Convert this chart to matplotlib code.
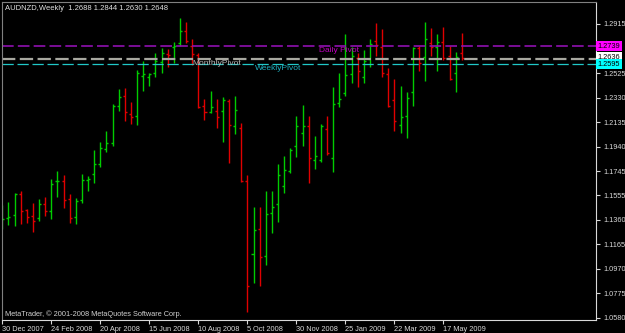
import matplotlib
matplotlib.use("Agg")
import matplotlib.pyplot as plt
import pandas as pd

# AUDNZD weekly bars
opens = [1.1332, 1.1372, 1.1396, 1.1562, 1.1435, 1.1388, 1.1372, 1.1483, 1.1427, 1.1665,
         1.1670, 1.1523, 1.1382, 1.1515, 1.1673, 1.1721, 1.1803, 1.1920, 1.1967, 1.2261,
         1.2345, 1.2200, 1.2186, 1.2499, 1.2496, 1.2525, 1.2615, 1.2676, 1.2732, 1.2761,
         1.2861, 1.2740, 1.2668, 1.2263, 1.2213, 1.2224, 1.2224, 1.2305, 1.2107, 1.2085,
         1.1670, 1.1088, 1.1284, 1.1072, 1.1411, 1.1485, 1.1628, 1.1745, 1.1946, 1.2047,
         1.2105, 1.1832, 1.1832, 1.2081, 1.1848, 1.2285, 1.2367, 1.2517, 1.2644, 1.2496,
         1.2634, 1.2782, 1.2734, 1.2517, 1.2311, 1.2112, 1.2184, 1.2371, 1.2726, 1.2655,
         1.2764, 1.2729, 1.2769, 1.2663, 1.2528, 1.2688]
highs = [1.1477, 1.1499, 1.1570, 1.1588, 1.1446, 1.1496, 1.1523, 1.1541, 1.1684, 1.1745,
         1.1718, 1.1567, 1.1530, 1.1721, 1.1708, 1.1914, 1.1978, 1.2065, 1.2277, 1.2401,
         1.2406, 1.2295, 1.2549, 1.2623, 1.2525, 1.2687, 1.2721, 1.2714, 1.2769, 1.2960,
         1.2933, 1.2793, 1.2687, 1.2317, 1.2382, 1.2317, 1.2337, 1.2317, 1.2343, 1.2132,
         1.1715, 1.1464, 1.1464, 1.1591, 1.1588, 1.1800, 1.1869, 1.1932, 1.2186, 1.2271,
         1.2184, 1.2028, 1.2118, 1.2184, 1.2412, 1.2523, 1.2835, 1.2734, 1.2688, 1.2708,
         1.2793, 1.2920, 1.2875, 1.2563, 1.2475, 1.2422, 1.2375, 1.2729, 1.2737, 1.2930,
         1.2880, 1.2835, 1.2888, 1.2737, 1.2692, 1.2844]
lows = [1.1287, 1.1318, 1.1311, 1.1326, 1.1332, 1.1265, 1.1353, 1.1392, 1.1366, 1.1543,
        1.1453, 1.1332, 1.1326, 1.1496, 1.1591, 1.1650, 1.1777, 1.1898, 1.1948, 1.2226,
        1.2147, 1.2118, 1.2115, 1.2385, 1.2425, 1.2496, 1.2523, 1.2571, 1.2602, 1.2740,
        1.2766, 1.2589, 1.2245, 1.2152, 1.2205, 1.2086, 1.1980, 1.1808, 1.2039, 1.1656,
        1.0628, 1.0860, 1.0834, 1.1001, 1.1255, 1.1345, 1.1575, 1.1729, 1.1861, 1.1948,
        1.1650, 1.1763, 1.1821, 1.1874, 1.1742, 1.2258, 1.2343, 1.2448, 1.2412, 1.2448,
        1.2571, 1.2663, 1.2491, 1.2258, 1.2065, 1.2051, 1.2012, 1.2263, 1.2544, 1.2464,
        1.2660, 1.2544, 1.2625, 1.2470, 1.2377, 1.2630]
closes = [1.1366, 1.1380, 1.1567, 1.1427, 1.1384, 1.1353, 1.1488, 1.1430, 1.1646, 1.1670,
          1.1517, 1.1374, 1.1511, 1.1676, 1.1680, 1.1800, 1.1932, 1.1967, 1.2261, 1.2335,
          1.2213, 1.2178, 1.2528, 1.2515, 1.2520, 1.2623, 1.2682, 1.2668, 1.2740, 1.2859,
          1.2777, 1.2680, 1.2253, 1.2213, 1.2258, 1.2174, 1.2311, 1.2112, 1.2232, 1.1668,
          1.0834, 1.1275, 1.1067, 1.1403, 1.1464, 1.1715, 1.1755, 1.1910, 1.2101, 1.2105,
          1.1850, 1.1866, 1.2107, 1.1893, 1.2278, 1.2319, 1.2509, 1.2660, 1.2541, 1.2623,
          1.2756, 1.2748, 1.2528, 1.2267, 1.2144, 1.2176, 1.2324, 1.2726, 1.2605, 1.2793,
          1.2729, 1.2774, 1.2644, 1.2480, 1.2655, 1.2648]

semanas = pd.date_range("2007-12-30", periods=len(opens), freq="7D")

# pivotes
pivot_diario = 1.2739
pivot_mensual = 1.2636
pivot_semanal = 1.2595

precios_eje = [1.2915, 1.2525, 1.2330, 1.2135, 1.1940, 1.1745, 1.1555,
               1.1360, 1.1165, 1.0970, 1.0775, 1.0580]

plt.rcParams["font.family"] = ["Liberation Sans", "DejaVu Sans"]

fig = plt.figure(figsize=(6.25, 3.33), dpi=100)
fig.patch.set_facecolor("black")
ax = fig.add_axes([2 / 625, 13 / 333, 594 / 625, 318 / 333])
ax.set_facecolor("black")

# barras OHLC
for i in range(len(opens)):
    col = "#00cc00" if closes[i] >= opens[i] else "#e00000"
    ax.vlines(i, lows[i], highs[i], color=col, linewidth=1.0)
    ax.hlines(opens[i], i - 0.33, i, color=col, linewidth=1.0)
    ax.hlines(closes[i], i, i + 0.33, color=col, linewidth=1.0)

# lineas de pivote
ax.axhline(pivot_diario, color="#9010b0", linestyle=(0, (7, 2.5)), linewidth=1.2)
ax.axhline(pivot_mensual, color="#a8a8a0", linestyle=(0, (6, 2)), linewidth=1.6)
ax.axhline(pivot_semanal, color="#20c8c8", linestyle=(0, (9, 3)), linewidth=0.9)

ax.text(31.1, pivot_mensual - 0.0005, "MonthlyPivot", color="#b8b8b8", fontsize=6, va="top")
ax.text(41.3, pivot_semanal - 0.0005, "WeeklyPivot", color="#20b0c0", fontsize=6, va="top")
ax.text(51.7, pivot_diario - 0.0005, "Daily Pivot", color="#c000c0", fontsize=6, va="top")

ax.set_xlim(-0.05, 96.9)
ax.set_ylim(1.05641, 1.30890)

# eje y a la derecha
ax.yaxis.tick_right()
ax.set_yticks(precios_eje)
ax.set_yticklabels([f"{p:.4f}" for p in precios_eje])
ax.tick_params(axis="y", colors="#d8d8d8", labelsize=5.3, length=3, pad=2)

# eje x: cada 8 semanas
pos_x = list(range(0, len(semanas), 8))
ax.set_xticks(pos_x)
ax.set_xticklabels([f"{semanas[k].day} {semanas[k]:%b %Y}" for k in pos_x], ha="left")
ax.tick_params(axis="x", colors="#d8d8d8", labelsize=5.3, length=3, pad=1)

for lado in ["left", "top"]:
    ax.spines[lado].set_color("#808080")
for lado in ["right", "bottom"]:
    ax.spines[lado].set_color("#d8d8d8")

# etiquetas de precio de los pivotes
tr = ax.get_yaxis_transform()
ax.text(1.003, pivot_mensual + 0.0012, "1.2636", transform=tr, fontsize=5.3, va="center",
        color="black", bbox=dict(facecolor="white", edgecolor="none", pad=1.2), clip_on=False)
ax.text(1.003, pivot_semanal, "1.2595", transform=tr, fontsize=5.3, va="center",
        color="black", bbox=dict(facecolor="#00ffff", edgecolor="none", pad=1.2), clip_on=False)
ax.text(1.003, pivot_diario, "1.2739", transform=tr, fontsize=5.3, va="center",
        color="black", bbox=dict(facecolor="#ff00ff", edgecolor="none", pad=1.2), clip_on=False)

fig.text(5 / 625, 1 - 8 / 333, "AUDNZD,Weekly  1.2688 1.2844 1.2630 1.2648",
         color="#e0e0e0", fontsize=5.5, va="center")
fig.text(5 / 625, 1 - 314 / 333, "MetaTrader, \u00a9 2001-2008 MetaQuotes Software Corp.",
         color="#d0d0d0", fontsize=5.3, va="center")

fig.savefig("out.png", dpi=100, facecolor="black")
